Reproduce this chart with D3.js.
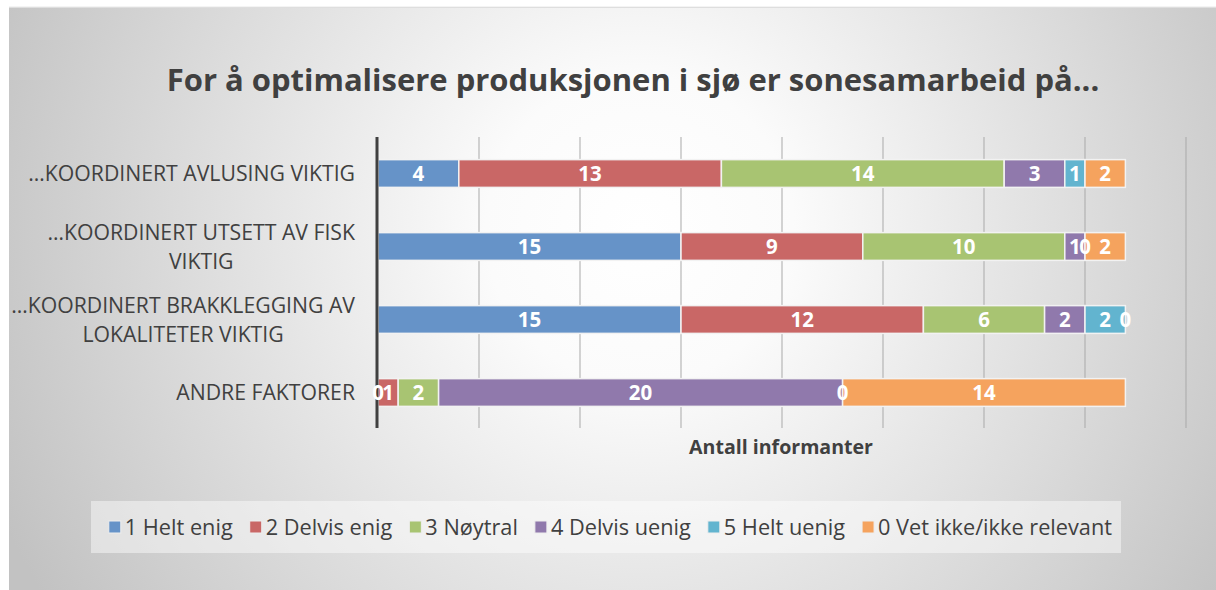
<!DOCTYPE html>
<html>
<head>
<meta charset="utf-8">
<script src="https://cdn.jsdelivr.net/npm/d3@7"></script>
<style>
  body { margin: 0; background: #fff; }
  svg { display: block; }
</style>
</head>
<body>
<div></div>
<script>
const categories = [
  "…KOORDINERT AVLUSING VIKTIG",
  "…KOORDINERT UTSETT AV FISK VIKTIG",
  "…KOORDINERT BRAKKLEGGING AV LOKALITETER VIKTIG",
  "ANDRE FAKTORER"
];
// wrapped the way the original shows them
const categoryLines = [
  ["…KOORDINERT AVLUSING VIKTIG"],
  ["…KOORDINERT UTSETT AV FISK", "VIKTIG"],
  ["…KOORDINERT BRAKKLEGGING AV", "LOKALITETER VIKTIG"],
  ["ANDRE FAKTORER"]
];
const seriesNames = ["1 Helt enig", "2 Delvis enig", "3 Nøytral", "4 Delvis uenig", "5 Helt uenig", "0 Vet ikke/ikke relevant"];
const heltEnig = [4, 15, 15, 0];
const delvisEnig = [13, 9, 12, 1];
const noytral = [14, 10, 6, 2];
const delvisUenig = [3, 1, 2, 20];
const heltUenig = [1, 0, 2, 0];
const vetIkke = [2, 2, 0, 14];
const xTicks = [0, 5, 10, 15, 20, 25, 30, 35, 40];

const colors = ["#6693c8", "#c96766", "#a8c472", "#9079ac", "#62b4cf", "#f5a35e"];
const seriesValues = [heltEnig, delvisEnig, noytral, delvisUenig, heltUenig, vetIkke];

const rows = categories.map((c, i) => {
  const r = { cat: c };
  seriesNames.forEach((s, j) => (r[s] = seriesValues[j][i]));
  return r;
});
const stacked = d3.stack().keys(seriesNames)(rows);

const W = 1216, H = 590;
const svg = d3.select("div").append("svg").attr("width", W).attr("height", H);
const font = "'Open Sans', Lato, sans-serif";

// shrink/grow font so text spans a given width
function fitWidth(sel, size, target) {
  sel.attr("font-size", size);
  const w = sel.node().getComputedTextLength();
  const s = size * target / w;
  sel.attr("font-size", s);
  return s;
}

const defs = svg.append("defs");
const grad = defs.append("radialGradient").attr("id", "bg")
  .attr("gradientUnits", "userSpaceOnUse")
  .attr("cx", 640).attr("cy", 230).attr("r", 700);
grad.append("stop").attr("offset", "0%").attr("stop-color", "#ffffff");
grad.append("stop").attr("offset", "22%").attr("stop-color", "#fbfbfb");
grad.append("stop").attr("offset", "100%").attr("stop-color", "#c2c2c2");

const shadow = defs.append("linearGradient").attr("id", "topshadow")
  .attr("x1", 0).attr("y1", 0).attr("x2", 0).attr("y2", 1);
shadow.append("stop").attr("offset", "0%").attr("stop-color", "#ffffff");
shadow.append("stop").attr("offset", "100%").attr("stop-color", "#bdbdbd");

svg.append("rect").attr("x", 9).attr("y", 6).attr("width", W - 9).attr("height", 3)
  .attr("fill", "url(#topshadow)");
svg.append("rect").attr("x", 9).attr("y", 8).attr("width", W - 9).attr("height", H - 8)
  .attr("fill", "url(#bg)");

// title
const title = svg.append("text")
  .attr("x", 633).attr("y", 91)
  .attr("text-anchor", "middle")
  .attr("font-family", font).attr("font-weight", "bold")
  .attr("fill", "#404040")
  .text("For å optimalisere produksjonen i sjø er sonesamarbeid på...");
fitWidth(title, 28, 933);

const x = d3.scaleLinear().domain([0, 40]).range([378, 1186]);
const y = d3.scaleBand().domain(categories).range([137, 429]).paddingInner(0.62).paddingOuter(0.31);

// gridlines
svg.append("g")
  .selectAll("line").data(xTicks.slice(1)).join("line")
  .attr("x1", (d) => x(d)).attr("x2", (d) => x(d))
  .attr("y1", 137).attr("y2", 428)
  .attr("stroke", "#a9a9a9").attr("stroke-width", 1);

// bars
const layer = svg.append("g").selectAll("g").data(stacked).join("g")
  .attr("fill", (d, i) => colors[i]);
layer.selectAll("rect").data((d) => d).join("rect")
  .attr("x", (d) => x(d[0]))
  .attr("y", (d) => y(d.data.cat))
  .attr("width", (d) => x(d[1]) - x(d[0]))
  .attr("height", y.bandwidth())
  .attr("stroke", "#f2f2f2").attr("stroke-width", 1.5)
  .attr("stroke-opacity", (d) => (d[1] - d[0] > 0 ? 1 : 0));

// vertical axis line
svg.append("line")
  .attr("x1", 377).attr("x2", 377).attr("y1", 137).attr("y2", 428)
  .attr("stroke", "#404040").attr("stroke-width", 3);

// data labels
const labels = svg.append("g").selectAll("g").data(stacked).join("g");
labels.selectAll("text").data((d) => d).join("text")
  .attr("x", (d) => (x(d[0]) + x(d[1])) / 2)
  .attr("y", (d) => y(d.data.cat) + y.bandwidth() / 2)
  .attr("dy", "0.36em")
  .attr("text-anchor", "middle")
  .attr("font-family", font).attr("font-weight", "bold")
  .attr("font-size", 20.5).attr("fill", "#ffffff")
  .text((d) => d[1] - d[0]);

// category labels
const probe = svg.append("text").attr("font-family", font).text(categoryLines[0][0]);
const catSize = fitWidth(probe, 18, 327);
probe.remove();
const catG = svg.append("g").selectAll("g").data(categories).join("g");
catG.each(function (c, i) {
  const g = d3.select(this);
  const lines = categoryLines[i];
  const cy = y(c) + y.bandwidth() / 2;
  const lh = 29;
  const texts = lines.map((l, k) => g.append("text")
    .attr("y", cy + (k - (lines.length - 1) / 2) * lh)
    .attr("dy", "0.36em")
    .attr("text-anchor", "middle")
    .attr("font-family", font).attr("font-size", catSize).attr("fill", "#404040")
    .text(l));
  const widths = texts.map((t) => t.node().getComputedTextLength());
  const maxW = d3.max(widths);
  const center = 355 - maxW / 2;
  texts.forEach((t) => t.attr("x", center));
});

// x axis title
const axTitle = svg.append("text")
  .attr("x", 781).attr("y", 454)
  .attr("text-anchor", "middle")
  .attr("font-family", font).attr("font-weight", "bold")
  .attr("fill", "#404040")
  .text("Antall informanter");
fitWidth(axTitle, 18, 184);

// legend
svg.append("rect")
  .attr("x", 91).attr("y", 501).attr("width", 1030).attr("height", 52)
  .attr("fill", "#ffffff").attr("fill-opacity", 0.45);
const leg = svg.append("g").selectAll("g").data(seriesNames).join("g");
leg.append("rect")
  .attr("x", 0).attr("y", -6).attr("width", 12).attr("height", 12)
  .attr("fill", (d, i) => colors[i])
  .attr("stroke", "#eeeeee").attr("stroke-width", 1);
const legText = leg.append("text")
  .attr("x", 16).attr("dy", "0.36em")
  .attr("font-family", font).attr("fill", "#404040")
  .text((d) => d);
const legSize = fitWidth(legText.filter((d, i) => i === 5), 18, 234);
legText.attr("font-size", legSize);
// lay items out one after another, right edge where the original ends
const itemW = [];
legText.each(function () { itemW.push(16 + this.getComputedTextLength()); });
const gap = 17;
const total = d3.sum(itemW) + gap * (itemW.length - 1);
let cx = 1112 - total;
const starts = itemW.map((w) => { const s = cx; cx += w + gap; return s; });
leg.attr("transform", (d, i) => `translate(${starts[i]},527)`);
</script>
</body>
</html>
